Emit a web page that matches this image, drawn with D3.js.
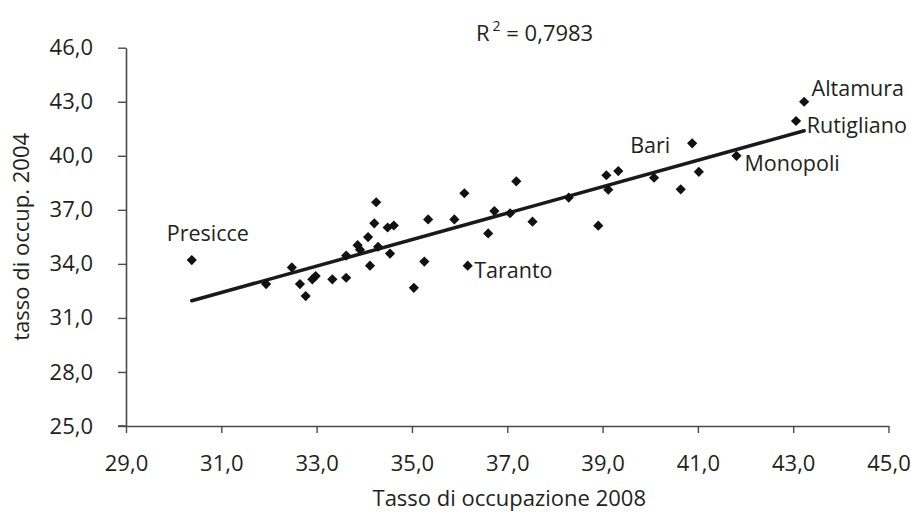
<!DOCTYPE html>
<html>
<head>
<meta charset="utf-8">
<script src="https://cdn.jsdelivr.net/npm/d3@7/dist/d3.min.js"></script>
<style>
  html, body { margin: 0; padding: 0; background: #fff; }
  svg { display: block; }
  text { font-family: "Open Sans", "Noto Sans", sans-serif; fill: #231f20; }
</style>
</head>
<body>
<svg id="chart" width="911" height="523"></svg>
<script>
// ---- data ----
const occ2008 = [30.38,31.94,32.48,32.65,32.77,32.91,32.98,33.33,33.62,33.62,33.86,33.91,34.08,34.12,34.21,34.25,34.29,34.49,34.62,34.54,35.04,35.26,35.34,35.89,36.10,36.17,36.60,36.73,37.06,37.19,37.53,38.29,38.91,39.08,39.12,39.33,40.08,40.64,40.88,41.02,41.81,43.06,43.23];
const occ2004 = [34.21,32.88,33.80,32.88,32.21,33.14,33.32,33.14,33.23,34.46,35.04,34.79,35.49,33.90,36.25,37.42,34.95,36.02,36.13,34.57,32.67,34.13,36.47,36.47,37.92,33.90,35.69,36.93,36.81,38.58,36.34,37.68,36.12,38.92,38.12,39.15,38.78,38.14,40.69,39.11,40.00,41.93,43.00];
const names   = ["Presicce","","","","","","","","","","","","","","","","","","","","","","","","","Taranto","","","","","","","","","","","","","Bari","","Monopoli","Rutigliano","Altamura"];
const xTicks = [29,31,33,35,37,39,41,43,45];
const yTicks = [25,28,31,34,37,40,43,46];
const r2Text = "0,7983";
const xTitle = "Tasso di occupazione 2008";
const yTitle = "tasso di occup. 2004";

// label placement (pixels relative to the point)
const labelOffsets = {
  "Presicce":   [-25, -19],
  "Taranto":    [6.5, 12.6],
  "Bari":       [-62, 9.4],
  "Monopoli":   [8, 15],
  "Rutigliano": [10.7, 11.7],
  "Altamura":   [7.4, -5.7]
};

const FS = "22px";
const svg = d3.select("#chart");
const fmt = v => d3.format(".1f")(v).replace(".", ",");

const x = d3.scaleLinear().domain([29, 45]).range([126, 888.5]);
const y = d3.scaleLinear().domain([25, 46]).range([426, 47.7]);

// axes
const axisColor = "#4a4a4a";
const gx = svg.append("g").attr("transform", `translate(0,${y(25)})`)
  .call(d3.axisBottom(x).tickValues(xTicks).tickFormat(fmt).tickSize(7).tickSizeOuter(0).tickPadding(22));
const gy = svg.append("g").attr("transform", `translate(${x(29)},0)`)
  .call(d3.axisLeft(y).tickValues(yTicks).tickFormat(fmt).tickSize(8).tickSizeOuter(0).tickPadding(25));
[gx, gy].forEach(g => {
  g.select(".domain").attr("stroke", axisColor).attr("stroke-width", 1.6);
  g.selectAll(".tick line").attr("stroke", axisColor).attr("stroke-width", 1.4);
  g.selectAll(".tick text").attr("fill", "#231f20")
    .style("font-family", '"Open Sans", "Noto Sans", sans-serif').style("font-size", FS);
});
gx.selectAll(".tick text").attr("dy", "0.71em");
// extend x-axis line left to cover the 25 tick
svg.append("line").attr("x1", x(29) - 8).attr("x2", x(29)).attr("y1", y(25)).attr("y2", y(25))
  .attr("stroke", axisColor).attr("stroke-width", 1.6);

// trend line (least squares through the points)
const n = occ2008.length;
const mx = d3.mean(occ2008), my = d3.mean(occ2004);
let sxy = 0, sxx = 0;
for (let i = 0; i < n; i++) { sxy += (occ2008[i]-mx)*(occ2004[i]-my); sxx += (occ2008[i]-mx)**2; }
const slope = sxy / sxx, intercept = my - slope * mx;
const [x0, x1] = d3.extent(occ2008);
svg.append("line")
  .attr("x1", x(x0)).attr("y1", y(intercept + slope * x0))
  .attr("x2", x(x1)).attr("y2", y(intercept + slope * x1))
  .attr("stroke", "#1a1a1a").attr("stroke-width", 3.5).attr("stroke-linecap", "round");

// points
const pts = occ2008.map((v, i) => ({ x: v, y: occ2004[i], name: names[i] }));
const sym = d3.symbol().type(d3.symbolSquare).size(52);
svg.append("g").selectAll("path").data(pts).join("path")
  .attr("d", sym)
  .attr("transform", d => `translate(${x(d.x)},${y(d.y)}) rotate(45)`)
  .attr("fill", "#111");

// point labels
svg.append("g").selectAll("text").data(pts.filter(d => d.name)).join("text")
  .attr("x", d => x(d.x) + labelOffsets[d.name][0])
  .attr("y", d => y(d.y) + labelOffsets[d.name][1])
  .style("font-size", "21.5px")
  .text(d => d.name);

// R^2 annotation
const r2 = svg.append("text").attr("x", 476).attr("y", 41).style("font-size", FS);
r2.append("tspan").text("R");
r2.append("tspan").attr("dy", -10).attr("dx", 3).style("font-size", "14px").text("2");
r2.append("tspan").attr("dy", 10).text(" = " + r2Text);

// axis titles
svg.append("text").attr("x", (x(29) + x(45)) / 2 + 2).attr("y", 506)
  .attr("text-anchor", "middle").style("font-size", FS).text(xTitle);
svg.append("text").attr("transform", `translate(29,${(y(25) + y(46)) / 2}) rotate(-90)`)
  .attr("text-anchor", "middle").style("font-size", FS).text(yTitle);
</script>
</body>
</html>
